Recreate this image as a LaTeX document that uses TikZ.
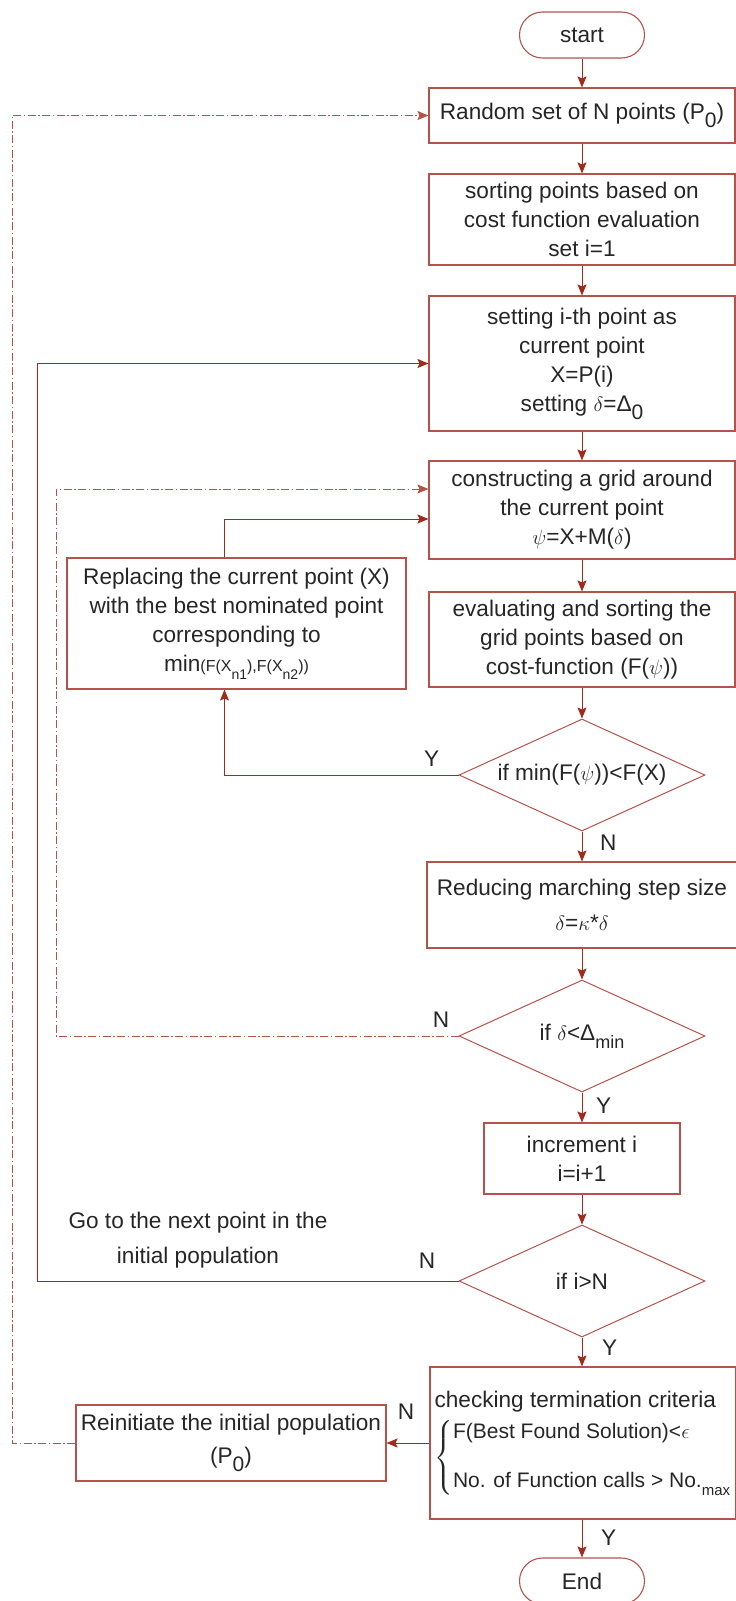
\documentclass[tikz,border=0pt]{standalone}
\definecolor{flowBox}{HTML}{B5524A}
\definecolor{flowLine}{HTML}{A02A1C}
\definecolor{flowText}{HTML}{262626}
\usepackage{fontspec}
\setmainfont{Liberation Sans}
\usetikzlibrary{shapes.geometric, arrows.meta, positioning, calc}
\usepackage{amsmath}
\newcommand{\fsz}{\fontsize{22.6}{29}\selectfont}
\newcommand{\lowsub}[2]{\raisebox{-8pt}{\fontsize{#1}{#1}\selectfont #2}}

\begin{document}
\begin{tikzpicture}[x=1pt, y=-1pt,
  proc/.style={draw=flowBox, line width=1.1pt, text=flowText, align=center,
    inner sep=2pt, font=\fsz},
  term/.style={proc, rounded corners=23pt, minimum width=125pt, minimum height=46pt},
  cond/.style={diamond, draw=flowBox, line width=1pt, text=flowText, font=\fsz,
    inner sep=0pt, shape aspect=2.2, minimum width=246pt, minimum height=112pt},
  yn/.style={font=\fsz, text=flowText, inner sep=0pt},
  flow/.style={draw=flowLine, line width=1pt, -{Stealth[length=11pt, width=9pt, inset=2pt]}},
  back/.style={flow, draw=flowBox, dash pattern=on 8pt off 2.5pt on 1.5pt off 2.5pt}]
  \useasboundingbox (0,0) rectangle (736,1601);
  \node[term] (start) at (582,35) {start};
  \node[proc, minimum width=306pt, minimum height=55pt] (rand) at (582,115.5)
    {Random set of N points (P\lowsub{21}{0})};
  \node[proc, minimum width=306pt, minimum height=91pt] (sortp) at (582,219.5)
    {sorting points based on\\cost function evaluation\\set i=1};
  \node[proc, minimum width=306pt, minimum height=135pt] (setpt) at (582,363.5)
    {setting i-th point as\\current point\\X=P(i)\\setting $\delta$=Δ\lowsub{21}{0}};
  \node[proc, minimum width=306pt, minimum height=98pt] (grid) at (582,510)
    {constructing a grid around\\the current point\\$\psi$=X+M($\delta$)};
  \node[proc, minimum width=306pt, minimum height=95pt] (evalg) at (582,639.5)
    {evaluating and sorting the\\grid points based on\\cost-function (F($\psi$))};
  \node[cond] (dec1) at (582,775) {if min(F($\psi$))<F(X)};
  \node[proc, minimum width=310pt, minimum height=86pt] (reduce) at (582,905)
    {Reducing marching step size\\[6pt]$\delta$=$\kappa$*$\delta$};
  \node[cond] (dec2) at (582,1036) {if $\delta$<Δ\lowsub{18}{min}};
  \node[proc, minimum width=196pt, minimum height=71pt] (incr) at (582,1158.5)
    {increment i\\i=i+1};
  \node[cond] (dec3) at (582,1281) {if i>N};
  \node[proc, minimum width=306pt, minimum height=152pt, align=left] (check) at (583,1443)
    {checking termination criteria\\[8pt]
     $\left\{\fontsize{21}{25}\selectfont\begin{tabular}{@{}l@{}}F(Best Found Solution)<$\epsilon$\\[24pt]
      No. of Function calls > No.\lowsub{15}{max}\end{tabular}\right.$};
  \node[term] (end) at (582,1581) {End};
  \node[proc, minimum width=339pt, minimum height=131pt] (repl) at (236.5,623.5)
    {Replacing the current point (X)\\with the best nominated point\\corresponding to\\
     min{\fontsize{16}{16}\selectfont(F(X\lowsub{14}{n1}),F(X\lowsub{14}{n2}))}};
  \node[proc, minimum width=310pt, minimum height=76pt] (reinit) at (231,1443)
    {Reinitiate the initial population\\[4pt](P\lowsub{21}{0})};
  \node[yn, align=center, font=\fontsize{22.6}{35}\selectfont] (goto) at (198,1240)
    {Go to the next point in the\\initial population};
  \coordinate (railA) at (12,0);
  \coordinate (railB) at (37,0);
  \coordinate (railC) at (56,0);
  \node[yn, below right=3pt and 18pt of dec1.south] {N};
  \node[yn, above left=8pt and 19pt of dec1.west] {Y};
  \node[yn, below right=5pt and 14pt of dec2.south] {Y};
  \node[yn, above left=8pt and 9pt of dec2.west] {N};
  \node[yn, below right=2pt and 20pt of dec3.south] {Y};
  \node[yn, above left=12pt and 23pt of dec3.west] {N};
  \node[yn, below right=10pt and 18pt of check.south] {Y};
  \node[yn, above left=23pt and 15pt of check.west] {N};
  \draw[flow] (start) -- (rand);
  \draw[flow] (rand) -- (sortp);
  \draw[flow] (sortp) -- (setpt);
  \draw[flow] (setpt) -- (grid);
  \draw[flow] (grid) -- (evalg);
  \draw[flow] (evalg) -- (dec1);
  \draw[flow] (dec1) -- (reduce);
  \draw[flow] (reduce) -- (dec2);
  \draw[flow] (dec2) -- (incr);
  \draw[flow] (incr) -- (dec3);
  \draw[flow] (dec3) -- (check.north -| dec3);
  \draw[flow] (check.south -| end) -- (end);
  \draw[flow] (dec1.west) -| ([xshift=-12pt]repl.south);
  \draw[flow] ([xshift=-12pt]repl.north) |- ([yshift=-9pt]grid.west);
  \draw[back] (dec2.west) -- (dec2.west -| railC) |- ([yshift=21pt]grid.west);
  \draw[flow] (dec3.west) -- (dec3.west -| railB) |- (setpt.west);
  \draw[flow] (check.west) -- (reinit.east);
  \draw[back] (reinit.west) -- (reinit.west -| railA) |- (rand.west);
\end{tikzpicture}
\end{document}
